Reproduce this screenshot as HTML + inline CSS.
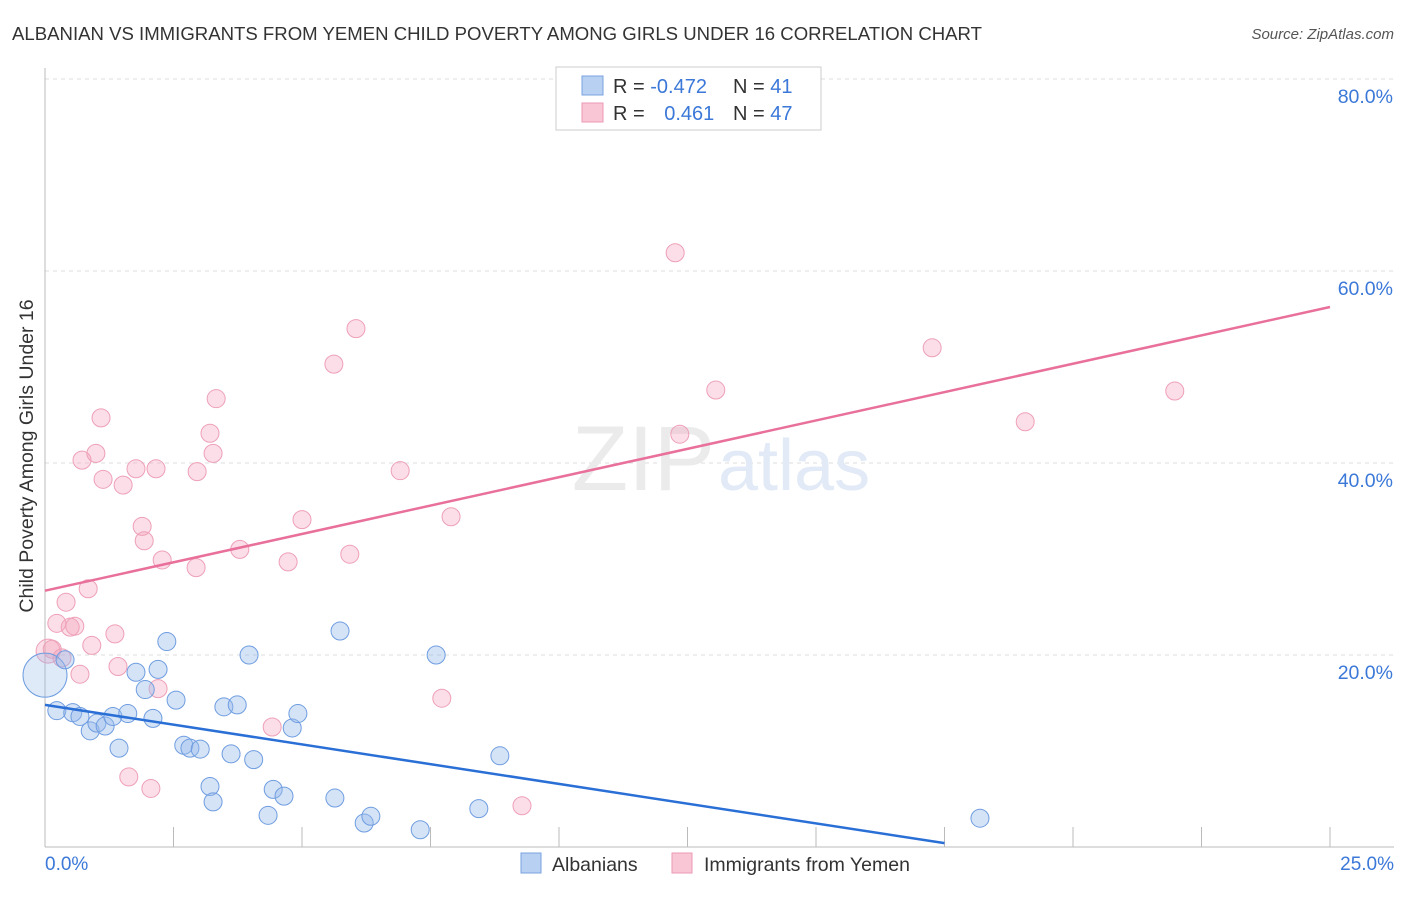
<!DOCTYPE html>
<html><head><meta charset="utf-8"><style>
body{margin:0;background:#fff;font-family:"Liberation Sans",sans-serif;}
svg text{font-family:"Liberation Sans",sans-serif;}
</style></head><body>
<svg id="chart" width="1406" height="892" viewBox="0 0 1406 892">
<text x="12" y="40" font-size="18" fill="#333" textLength="970" lengthAdjust="spacingAndGlyphs">ALBANIAN VS IMMIGRANTS FROM YEMEN CHILD POVERTY AMONG GIRLS UNDER 16 CORRELATION CHART</text>
<text x="1394" y="39" font-size="15" fill="#555" font-style="italic" text-anchor="end">Source: ZipAtlas.com</text>
<g id="grid"></g>
<text x="715" y="490" font-size="92" fill="#ebebeb" text-anchor="end" font-family="Liberation Serif">ZIP</text>
<text x="718" y="490" font-size="72" fill="#e1eaf6">atlas</text>
<g id="points"></g>
<g id="lines"></g>
<text transform="translate(33,456) rotate(-90)" font-size="19.5" fill="#333" text-anchor="middle">Child Poverty Among Girls Under 16</text>
<g>
<rect x="556" y="67" width="265" height="63" fill="#fff" stroke="#ccc"/>
<rect x="582" y="76" width="21" height="19" fill="#b8d0f2" stroke="#7aa3e0"/>
<rect x="582" y="103" width="21" height="19" fill="#f8c6d4" stroke="#ec9ab4"/>
<text x="613" y="93" font-size="20" fill="#333">R = <tspan fill="#3b78d8">-0.472</tspan></text>
<text x="733" y="93" font-size="20" fill="#333">N = <tspan fill="#3b78d8"> 41</tspan></text>
<text x="613" y="120" font-size="20" fill="#333">R = <tspan fill="#3b78d8" dx="14">0.461</tspan></text>
<text x="733" y="120" font-size="20" fill="#333">N = <tspan fill="#3b78d8">47</tspan></text>
</g>
<g>
<rect x="521" y="853" width="20" height="20" fill="#b8d0f2" stroke="#7aa3e0"/>
<text x="552" y="871" font-size="19.5" fill="#333">Albanians</text>
<rect x="672" y="853" width="20" height="20" fill="#f8c6d4" stroke="#ec9ab4"/>
<text x="704" y="871" font-size="19.5" fill="#333">Immigrants from Yemen</text>
</g>
</svg>
<script>
const blueX=[0.0,0.39,0.23,0.54,0.68,0.88,1.01,1.17,1.32,1.44,1.61,1.77,1.95,2.10,2.20,2.37,2.55,2.70,2.82,3.02,3.21,3.27,3.48,3.62,3.74,3.97,4.06,4.34,4.44,4.65,4.81,4.92,5.64,5.74,6.21,6.34,7.30,7.61,8.44,8.85,18.19];
const blueY=[17.9,19.5,14.2,14.0,13.6,12.1,12.9,12.6,13.6,10.3,13.9,18.2,16.4,13.4,18.5,21.4,15.3,10.6,10.3,10.2,6.3,4.7,14.6,9.7,14.8,20.0,9.1,3.3,6.0,5.3,12.4,13.9,5.1,22.5,2.5,3.2,1.8,20.0,4.0,9.5,3.0];
const pinkX=[0.06,0.14,0.23,0.33,0.41,0.49,0.58,0.68,0.72,0.84,0.91,0.99,1.09,1.13,1.36,1.42,1.52,1.63,1.77,1.89,1.93,2.06,2.16,2.20,2.28,2.94,2.96,3.21,3.27,3.33,3.79,4.42,4.73,5.00,5.62,5.93,6.05,6.91,7.72,7.90,9.28,12.26,12.35,13.05,17.26,19.07,21.98];
const pinkY=[20.4,20.6,23.3,19.7,25.5,22.9,23.0,18.0,40.3,26.9,21.0,41.0,44.7,38.3,22.2,18.8,37.7,7.3,39.4,33.4,31.9,6.1,39.4,16.5,29.9,29.1,39.1,43.1,41.0,46.7,31.0,12.5,29.7,34.1,50.3,30.5,54.0,39.2,15.5,34.4,4.3,61.9,43.0,47.6,52.0,44.3,47.5];
const blueTrend=[[0,14.8],[17.5,0.4]];
const pinkTrend=[[0,26.7],[25,56.25]];
const yTicks=[20,40,60,80];
const xTicks=[0,2.5,5,7.5,10,12.5,15,17.5,20,22.5,25];
const NS='http://www.w3.org/2000/svg';
const sx=v=>45+v*(1285/25);
const sy=v=>847-v*9.6;
function mk(tag,attrs,parent){const e=document.createElementNS(NS,tag);for(const k in attrs)e.setAttribute(k,attrs[k]);parent.appendChild(e);return e;}
const grid=document.getElementById('grid');
yTicks.forEach(t=>{
 const l=mk('line',{x1:45,x2:1394,y1:sy(t),y2:sy(t),stroke:'#ddd','stroke-dasharray':'4,4'},grid);
 
 
 const tx=mk('text',{x:1393,y:sy(t)+24,'font-size':19.5,fill:'#3b78d8','text-anchor':'end'},grid);
 tx.textContent=t.toFixed(1)+'%';
 
 
});
const ax=mk('line',{x1:45,x2:45,y1:68,y2:847,stroke:'#bbb'},grid);


const bx=mk('line',{x1:45,x2:1394,y1:847,y2:847,stroke:'#bbb'},grid);


xTicks.forEach(t=>{
 const l=mk('line',{x1:sx(t),x2:sx(t),y1:827,y2:847,stroke:'#bbb'},grid);
 
 
});
[[0,'start',45],[25,'end',1394]].forEach(([t,a,x])=>{
 const tx=mk('text',{x:x,y:870,'font-size':19,fill:'#3b78d8','text-anchor':a},grid);
 tx.textContent=t.toFixed(1)+'%';
 
 
});
const pts=document.getElementById('points');
pinkX.forEach((x,i)=>{
 const c=mk('circle',{cx:sx(x),cy:sy(pinkY[i]),r:i===0?12:9,fill:'rgba(244,160,186,0.35)',stroke:'#eea0b8','stroke-width':1},pts);
 
 
});
blueX.forEach((x,i)=>{
 const c=mk('circle',{cx:sx(x),cy:sy(blueY[i]),r:i===0?22:9,fill:i===0?'rgba(150,185,235,0.3)':'rgba(150,185,235,0.4)',stroke:'#6f9de0','stroke-width':1},pts);
 
 
});
const lines=document.getElementById('lines');
const pl=mk('line',{x1:sx(pinkTrend[0][0]),y1:sy(pinkTrend[0][1]),x2:sx(pinkTrend[1][0]),y2:sy(pinkTrend[1][1]),stroke:'#e8709a','stroke-width':2.5},lines);


const bl=mk('line',{x1:sx(blueTrend[0][0]),y1:sy(blueTrend[0][1]),x2:sx(blueTrend[1][0]),y2:sy(blueTrend[1][1]),stroke:'#2a6fd6','stroke-width':2.5},lines);


</script>
</body></html>
